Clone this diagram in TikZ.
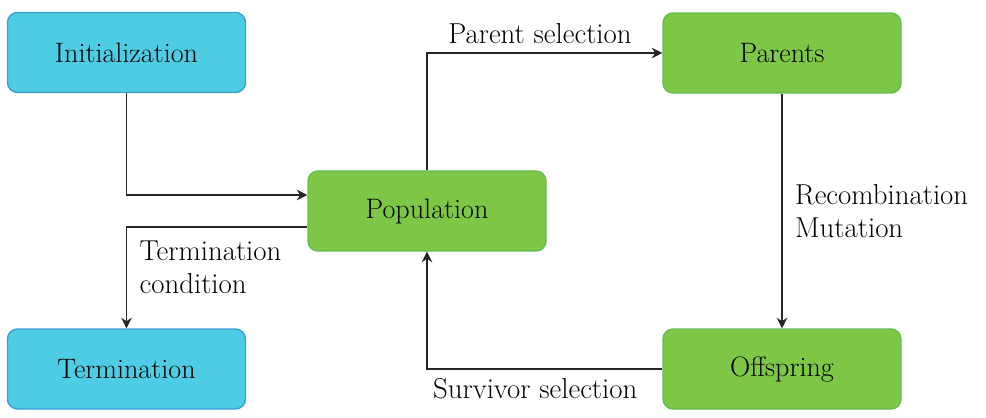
\documentclass[tikz,border=0pt]{standalone}
\usepackage{amsmath}
\usetikzlibrary{arrows.meta}
\definecolor{boxcyan}{RGB}{78,204,228}
\definecolor{edgecyan}{RGB}{58,158,212}
\definecolor{boxgreen}{RGB}{126,198,70}
\definecolor{edgegreen}{RGB}{98,190,82}

\begin{document}
\begin{tikzpicture}[
    stage/.style={draw,line width=.8pt,rounded corners=.2cm,minimum width=4.76cm,minimum height=1.6cm,font=\fontsize{16}{19}\selectfont},
    outer/.style={stage,fill=boxcyan,draw=edgecyan},
    inner/.style={stage,fill=boxgreen,draw=edgegreen},
    arr/.style={-{Stealth[length=6pt,width=6pt]},line width=1pt,black!85},
    lbl/.style={font=\fontsize{16.4}{19}\selectfont,align=left,text=black,inner xsep=7pt,inner ysep=5pt}]
    \useasboundingbox (0,0) rectangle (19.72,8.34);
    \node[outer] (init) at (2.53,7.29) {Initialization};
    \node[outer] (term) at (2.53,.96) {Termination};
    \node[inner] (pop) at (8.54,4.12) {Population};
    \node[inner] (par) at (15.64,7.28) {Parents};
    \node[inner] (off) at (15.64,.96) {Offspring};
    \draw[arr] (init.south) |- ([yshift=.32cm]pop.west);
    \draw[arr] ([yshift=-.32cm]pop.west) -| (term.north) node[lbl,pos=.7,anchor=west] {Termination\\condition};
    \draw[arr] (pop.north) |- (par.west) node[lbl,pos=.74,above] {Parent selection};
    \draw[arr] (par.south) -- (off.north) node[lbl,midway,right] {Recombination\\Mutation};
    \draw[arr] (off.west) -| (pop.south) node[lbl,pos=.27,below] {Survivor selection};
\end{tikzpicture}
\end{document}
